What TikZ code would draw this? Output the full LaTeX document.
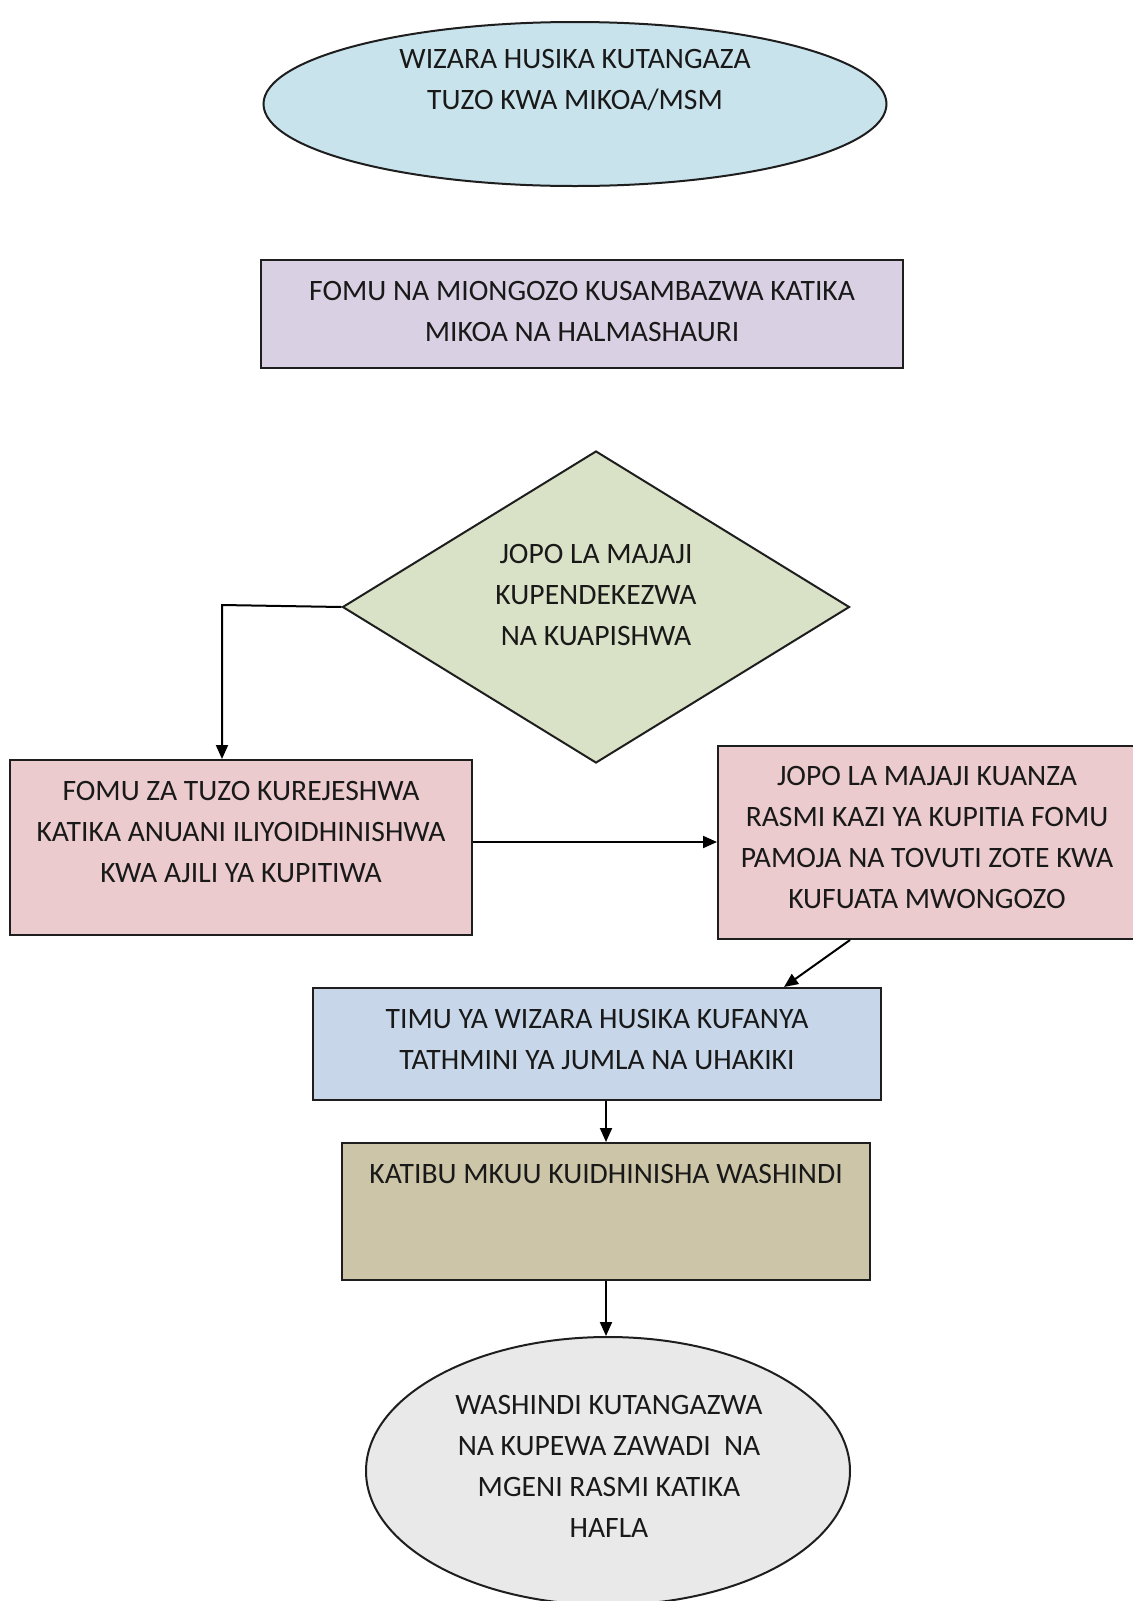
\documentclass[tikz,border=0pt]{standalone}
\usepackage{fontspec}
\setmainfont{Carlito}
\usetikzlibrary{shapes.geometric,arrows.meta}
\definecolor{cEllA}{HTML}{C9E3EC}
\definecolor{cPurp}{HTML}{D9D1E3}
\definecolor{cDiam}{HTML}{D9E2C6}
\definecolor{cPink}{HTML}{EBCBCD}
\definecolor{cBlue}{HTML}{C7D7E9}
\definecolor{cKhak}{HTML}{CCC5A7}
\definecolor{cGrey}{HTML}{E9E9E9}
\definecolor{cLine}{HTML}{1E1E1E}
\begin{document}
\begin{tikzpicture}[x=0.5pt,y=-0.5pt,
  shapebox/.style={draw=cLine,line width=1pt,inner sep=0pt},
  lbl/.style={align=center,font=\fontsize{14.8pt}{20.5pt}\selectfont,text=black!90,inner sep=0pt},
  conn/.style={draw=black,line width=1pt,-{Triangle[length=7pt,width=6pt]}}]
\useasboundingbox (0,0) rectangle (1133,1601);
\fill[white] (0,0) rectangle (1133,1601);
% shapes
\node[shapebox,ellipse,fill=cEllA,minimum width=311.5pt,minimum height=82pt] (e1) at (575,104) {};
\node[shapebox,rectangle,fill=cPurp,minimum width=321pt,minimum height=54pt] (r2) at (582,314) {};
\node[shapebox,diamond,fill=cDiam,minimum width=253.5pt,minimum height=156pt,aspect=1.6] (d3) at (596,607) {};
\node[shapebox,rectangle,fill=cPink,minimum width=231pt,minimum height=87.5pt] (r4) at (241,847.5) {};
\node[shapebox,rectangle,fill=cPink,minimum width=208pt,minimum height=96.5pt] (r5) at (926,842.5) {};
\node[shapebox,rectangle,fill=cBlue,minimum width=284pt,minimum height=56pt] (r6) at (597,1044) {};
\node[shapebox,rectangle,fill=cKhak,minimum width=264pt,minimum height=68.5pt] (r7) at (606,1211.5) {};
\node[shapebox,ellipse,fill=cGrey,minimum width=242pt,minimum height=134pt] (e8) at (608,1471) {};
% texts
\node[lbl] (t1) at (575,80) {WIZARA HUSIKA KUTANGAZA\\TUZO KWA MIKOA/MSM};
\node[lbl] (t2) at (582,311) {FOMU NA MIONGOZO KUSAMBAZWA KATIKA\\MIKOA NA HALMASHAURI};
\node[lbl] (t3) at (596,595) {JOPO LA MAJAJI\\KUPENDEKEZWA\\NA KUAPISHWA};
\node[lbl] (t4) at (241,832) {FOMU ZA TUZO KUREJESHWA\\KATIKA ANUANI ILIYOIDHINISHWA\\KWA AJILI YA KUPITIWA};
\node[lbl] (t5) at (927,837) {JOPO LA MAJAJI KUANZA\\RASMI KAZI YA KUPITIA FOMU\\PAMOJA NA TOVUTI ZOTE KWA\\KUFUATA MWONGOZO};
\node[lbl] (t6) at (597,1039) {TIMU YA WIZARA HUSIKA KUFANYA\\TATHMINI YA JUMLA NA UHAKIKI};
\node[lbl] (t7) at (606,1174) {KATIBU MKUU KUIDHINISHA WASHINDI};
\node[lbl] (t8) at (609,1466) {WASHINDI KUTANGAZWA\\NA KUPEWA ZAWADI\ \ NA\\MGENI RASMI KATIKA\\HAFLA};
% connectors
\coordinate (k1) at (222,605);
\draw[conn] (d3.west) -- (k1) -- (k1 |- r4.north);
\draw[conn] (r4.east |- 0,842) -- (r5.west |- 0,842);
\draw[conn] (r5.south -| 850,0) -- (r6.north -| 784,0);
\draw[conn] (606,0 |- r6.south) -- (606,0 |- r7.north);
\draw[conn] (r7.south -| 606,0) -- (e8.north -| 606,0);
\end{tikzpicture}
\end{document}
